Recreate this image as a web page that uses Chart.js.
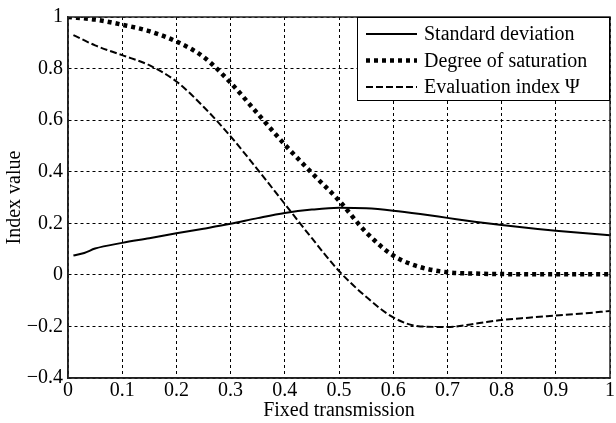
<!DOCTYPE html>
<html>
<head>
<meta charset="utf-8">
<script src="https://cdn.jsdelivr.net/npm/chart.js@4"></script>
<style>
  body { margin: 0; background: #fff; }
  #wrap { width: 616px; height: 423px; }
</style>
</head>
<body>
<div id="wrap"><canvas id="chart"></canvas></div>
<script>
// values
const stdX = [0.01, 0.03, 0.05, 0.1, 0.15, 0.2, 0.25, 0.3, 0.35, 0.4, 0.45, 0.5, 0.55, 0.6, 0.65, 0.7, 0.75, 0.8, 0.85, 0.9, 0.95, 1.0];
const stdY = [0.075, 0.085, 0.102, 0.124, 0.142, 0.161, 0.179, 0.198, 0.22, 0.24, 0.253, 0.26, 0.258, 0.249, 0.236, 0.221, 0.206, 0.193, 0.182, 0.171, 0.162, 0.154];

const satX = [0.0, 0.05, 0.1, 0.15, 0.2, 0.25, 0.3, 0.35, 0.4, 0.45, 0.5, 0.55, 0.6, 0.65, 0.7, 0.75, 0.8, 0.9, 1.0];
const satY = [1.0, 0.99, 0.97, 0.945, 0.905, 0.845, 0.745, 0.625, 0.505, 0.395, 0.288, 0.165, 0.075, 0.03, 0.01, 0.005, 0.003, 0.002, 0.002];

const evalX = [0.01, 0.05, 0.1, 0.15, 0.2, 0.25, 0.3, 0.35, 0.4, 0.45, 0.5, 0.55, 0.6, 0.65, 0.7, 0.75, 0.8, 0.85, 0.9, 0.95, 1.0];
const evalY = [0.93, 0.89, 0.852, 0.813, 0.75, 0.652, 0.537, 0.408, 0.275, 0.142, 0.015, -0.085, -0.165, -0.2, -0.202, -0.19, -0.175, -0.166, -0.158, -0.15, -0.14];

const seriesNames = ['Standard deviation', 'Degree of saturation', 'Evaluation index \u03A8'];

const font = 'Liberation Serif';

function pts(xs, ys) {
    return xs.map((x, i) => ({ x: x, y: ys[i] }));
}

function fmt(v) {
    return String(Number(v.toFixed(1))).replace('-', '\u2212');
}

// frame on top/right + legend box inside the plot
const framePlugin = {
    id: 'frame',
    afterDatasetsDraw(chart) {
        const ctx = chart.ctx;
        const a = chart.chartArea;
        ctx.save();
        ctx.strokeStyle = '#222';
        ctx.lineWidth = 1.5;
        ctx.setLineDash([]);
        ctx.strokeRect(a.left, a.top, a.right - a.left, a.bottom - a.top);

        // legend
        const boxL = a.right - 253, boxT = a.top, boxW = 253, boxH = 84;
        ctx.fillStyle = '#fff';
        ctx.fillRect(boxL, boxT, boxW, boxH);
        ctx.lineWidth = 1;
        ctx.strokeStyle = '#000';
        ctx.strokeRect(boxL + 0.5, boxT + 0.5, boxW - 1, boxH - 1);
        ctx.font = '20px "' + font + '"';
        ctx.textBaseline = 'middle';
        chart.data.datasets.forEach((ds, i) => {
            const y = boxT + 17 + i * 26.5;
            ctx.strokeStyle = '#000';
            ctx.lineWidth = ds.borderWidth;
            ctx.setLineDash(ds.borderDash || []);
            ctx.beginPath();
            ctx.moveTo(boxL + 9, y);
            ctx.lineTo(boxL + 60, y);
            ctx.stroke();
            ctx.setLineDash([]);
            ctx.fillStyle = '#000';
            ctx.fillText(ds.label, boxL + 67, y + 1);
        });
        ctx.restore();
    }
};

new Chart(document.getElementById('chart'), {
    type: 'scatter',
    data: {
        datasets: [
            {
                label: seriesNames[0],
                data: pts(stdX, stdY),
                showLine: true,
                borderColor: '#000',
                borderWidth: 2,
                pointRadius: 0,
                cubicInterpolationMode: 'monotone'
            },
            {
                label: seriesNames[1],
                data: pts(satX, satY),
                showLine: true,
                borderColor: '#000',
                borderWidth: 4.5,
                borderDash: [4, 4],
                pointRadius: 0,
                cubicInterpolationMode: 'monotone'
            },
            {
                label: seriesNames[2],
                data: pts(evalX, evalY),
                showLine: true,
                borderColor: '#000',
                borderWidth: 2,
                borderDash: [7, 3],
                pointRadius: 0,
                cubicInterpolationMode: 'monotone'
            }
        ]
    },
    options: {
        responsive: true,
        maintainAspectRatio: false,
        animation: false,
        layout: { padding: { left: 0, top: 15, right: 2, bottom: 0 } },
        plugins: {
            legend: { display: false },
            tooltip: { enabled: false }
        },
        scales: {
            x: {
                type: 'linear',
                min: 0,
                max: 1,
                afterFit: (scale) => { scale.height = 45; },
                ticks: {
                    stepSize: 0.1,
                    color: '#000',
                    font: { family: font, size: 20 },
                    padding: 1,
                    maxRotation: 0,
                    callback: (v) => fmt(v)
                },
                grid: { color: '#000', lineWidth: 1, drawTicks: false },
                border: { display: true, color: '#222', width: 1.5, dash: [3, 3] },
                title: {
                    display: true,
                    text: 'Fixed transmission',
                    color: '#000',
                    font: { family: font, size: 20 },
                    padding: { top: 0, bottom: 0 }
                }
            },
            y: {
                type: 'linear',
                min: -0.4,
                max: 1,
                afterFit: (scale) => { scale.width = 68; },
                ticks: {
                    stepSize: 0.2,
                    color: '#000',
                    font: { family: font, size: 20 },
                    padding: 5,
                    callback: (v) => fmt(v)
                },
                grid: { color: '#000', lineWidth: 1, drawTicks: false },
                border: { display: true, color: '#222', width: 1.5, dash: [3, 3] },
                title: {
                    display: true,
                    text: 'Index value',
                    color: '#000',
                    font: { family: font, size: 20 },
                    padding: { top: 3, bottom: 0 }
                }
            }
        }
    },
    plugins: [framePlugin]
});
</script>
</body>
</html>
